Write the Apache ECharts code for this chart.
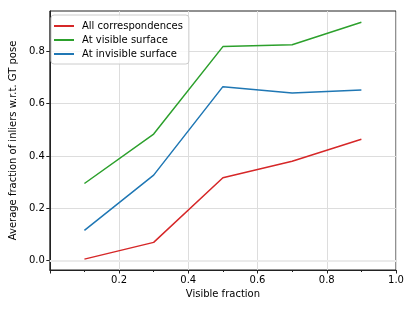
<!DOCTYPE html>
<html>
<head>
<meta charset="utf-8">
<script src="https://cdn.jsdelivr.net/npm/echarts@6/dist/echarts.min.js"></script>
<style>html,body{margin:0;padding:0;background:#fff;}#c{width:415px;height:311px;}</style>
</head>
<body>
<div id="c"></div>
<script>
const visibleFraction = [0.1, 0.3, 0.5, 0.7, 0.9];
const allCorrespondences = [0.006, 0.070, 0.317, 0.380, 0.464];
const atVisibleSurface = [0.295, 0.484, 0.818, 0.825, 0.911];
const atInvisibleSurface = [0.116, 0.327, 0.665, 0.641, 0.652];
const seriesNames = ['All correspondences', 'At visible surface', 'At invisible surface'];
const yTicks = [0, 0.2, 0.4, 0.6, 0.8];

const font = 'DejaVu Sans';
const pairs = arr => visibleFraction.map((x, i) => [x, arr[i]]);
const colors = ['#d62728', '#2ca02c', '#1f77b4'];
const chart = echarts.init(document.getElementById('c'), null, {renderer: 'canvas'});
const mk = (name, data, color, extra) => Object.assign({
  name, type: 'line', data: pairs(data), showSymbol: false, symbol: 'none',
  lineStyle: {color, width: 1.5}, itemStyle: {color}, animation: false, z: 3
}, extra || {});
chart.setOption({
  animation: false,
  backgroundColor: '#fff',
  color: colors,
  textStyle: {fontFamily: font},
  grid: {left: 46, right: 19, top: 11, bottom: 41, containLabel: false,
    show: true, borderColor: '#222', borderWidth: 1, backgroundColor: 'transparent'},
  legend: {
    orient: 'vertical', left: 51, top: 15,
    data: seriesNames.map(n => ({name: n, icon: 'rect'})),
    itemWidth: 20, itemHeight: 2, itemGap: 4,
    padding: [6, 6, 5, 3],
    backgroundColor: 'rgba(255,255,255,0.8)',
    borderColor: '#cccccc', borderWidth: 1, borderRadius: 3,
    textStyle: {fontFamily: font, fontSize: 10, color: '#000', padding: [0, 0, 0, 3]}
  },
  xAxis: {
    type: 'value', min: 0, max: 1, interval: 0.2,
    name: 'Visible fraction', nameLocation: 'middle', nameGap: 18,
    nameTextStyle: {fontFamily: font, fontSize: 10, color: '#000'},
    axisLine: {show: true, onZero: false, lineStyle: {color: '#222', width: 1}},
    axisTick: {show: true, inside: false, length: 3.5, lineStyle: {color: '#222'}},
    minorTick: {show: true, splitNumber: 2, length: 2, lineStyle: {color: '#222'}},
    axisLabel: {fontFamily: font, fontSize: 10, color: '#000', margin: 5, showMinLabel: false,
      formatter: v => v.toFixed(1)},
    splitLine: {show: true, lineStyle: {color: '#dddddd', width: 1}}
  },
  yAxis: {
    type: 'value', min: -0.0355, max: 0.954,
    name: 'Average fraction of inliers w.r.t. GT pose', nameLocation: 'middle', nameGap: 27,
    nameTextStyle: {fontFamily: font, fontSize: 10, color: '#000'},
    axisLine: {show: true, onZero: false, lineStyle: {color: '#222', width: 1}},
    axisTick: {show: true, inside: false, length: 3.5, lineStyle: {color: '#222'}, customValues: yTicks},
    axisLabel: {fontFamily: font, fontSize: 10, color: '#000', margin: 5, customValues: yTicks,
      formatter: v => v.toFixed(1)},
    splitLine: {show: true, lineStyle: {color: '#dddddd', width: 1}}
  },
  series: [
    mk(seriesNames[0], allCorrespondences, colors[0], {
      markLine: {silent: true, symbol: 'none', label: {show: false}, z: 1,
        lineStyle: {color: '#ebebeb', width: 2, type: 'solid'},
        data: [{yAxis: 0}]}
    }),
    mk(seriesNames[1], atVisibleSurface, colors[1]),
    mk(seriesNames[2], atInvisibleSurface, colors[2])
  ]
});
</script>
</body>
</html>
